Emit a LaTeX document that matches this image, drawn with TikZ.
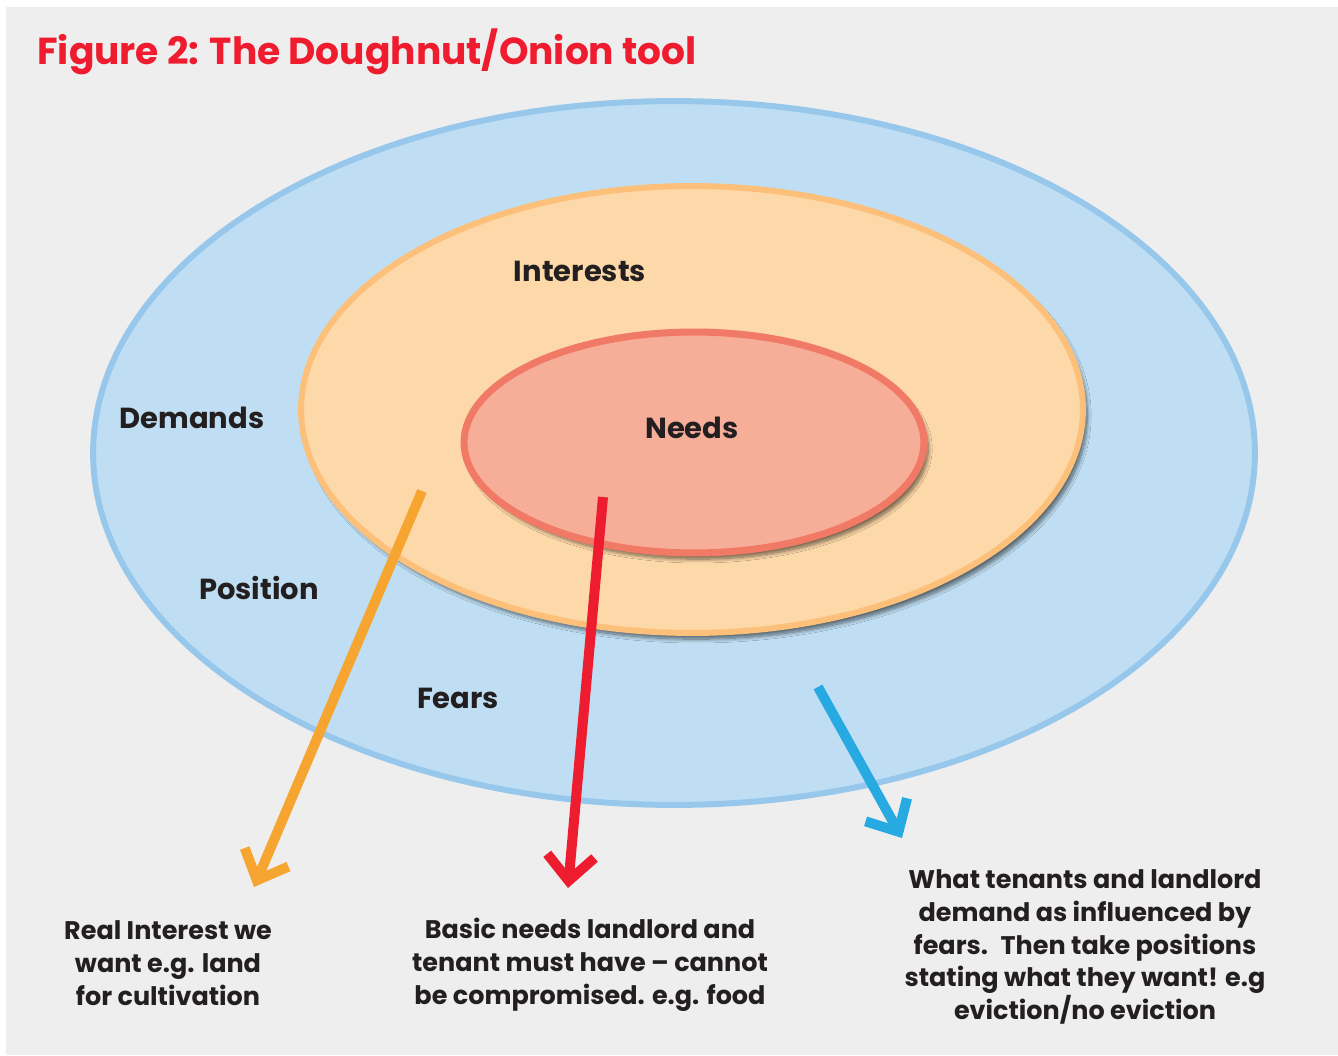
\documentclass[tikz,border=0pt]{standalone}
\usepackage{fontspec}
\setmainfont{Poppins}
\usetikzlibrary{arrows.meta,shapes.geometric,shadows.blur}

\definecolor{panelgray}{HTML}{EEEEEE}
\definecolor{outerfill}{HTML}{BFDEF3}
\definecolor{outerline}{HTML}{97C8EC}
\definecolor{midfill}{HTML}{FDD8A8}
\definecolor{midline}{HTML}{FDC07A}
\definecolor{innerfill}{HTML}{F7AE98}
\definecolor{innerline}{HTML}{F07A66}
\definecolor{titlered}{HTML}{EE1C2E}
\definecolor{textdark}{HTML}{231F20}
\definecolor{arroworange}{HTML}{F7A531}
\definecolor{arrowred}{HTML}{ED1C2E}
\definecolor{arrowblue}{HTML}{27AAE1}

\begin{document}
\begin{tikzpicture}[
    x=0.02cm, y=-0.02cm,
    ring/.style  ={ellipse, inner sep=0pt},
    layer/.style ={font=\fontsize{16.5}{20}\selectfont\bfseries, text=textdark},
    note/.style  ={font=\fontsize{14.5}{18.7}\selectfont\bfseries, text=textdark, align=center},
    pointer/.style={line width=0.2cm, -{Straight Barb[length=5mm, width=9.5mm]}},
    softshadow/.style={blur shadow={shadow xshift=2.5pt, shadow yshift=-3.5pt, shadow blur steps=10, shadow opacity=55}}
  ]
  \useasboundingbox (0,0) rectangle (1338,1055);
  \fill[white] (0,0) rectangle (1338,1055);
  \fill[panelgray] (6,7) rectangle (1338,1055);

  % title
  \node[anchor=base west, inner sep=0pt, text=titlered,
        font=\fontsize{21.4}{26}\selectfont\bfseries] (title) at (37,64) {Figure 2: The Doughnut/Onion tool};

  % the three rings
  \node[ring, fill=outerfill, draw=outerline, line width=3.4pt,
        minimum width=23.24cm, minimum height=14.08cm] (outer) at (674,453) {};
  \node[ring, softshadow, fill=midfill, draw=midline, line width=3.4pt,
        minimum width=15.64cm, minimum height=8.94cm] (middle) at (692,409.5) {};
  \node[ring, softshadow, fill=innerfill, draw=innerline, line width=4pt,
        minimum width=9.2cm, minimum height=4.42cm] (inner) at (694,442.5) {};

  % ring labels
  \node[layer] (interests) at (580,271) {Interests};
  \node[layer] (needs)     at (692,428) {Needs};
  \node[layer] (demands)   at (192,418) {Demands};
  \node[layer] (position)  at (259,588) {Position};
  \node[layer] (fears)     at (458,698) {Fears};

  % arrows
  \coordinate (o1) at (422,491);
  \coordinate (o2) at (254,887);
  \coordinate (r1) at (603,497);
  \coordinate (r2) at (568,888);
  \coordinate (b1) at (818,687);
  \coordinate (b2) at (902,838);
  \draw[pointer, arroworange] (o1) -- (o2);
  \draw[pointer, arrowred]    (r1) -- (r2);
  \draw[pointer, arrowblue]   (b1) -- (b2);

  % notes below
  \node[note] (realint) at (168,963) {Real Interest we\\want e.g. land\\for cultivation};
  \node[note] (basic)   at (590,965) {Basic needs landlord and\\tenant must have -- cannot\\be compromised. e.g. food};
  \node[note] (what)    at (1085,947) {What tenants and landlord\\demand as influenced by\\fears.~ Then take positions\\stating what they want! e.g\\eviction/no eviction};
\end{tikzpicture}
\end{document}
